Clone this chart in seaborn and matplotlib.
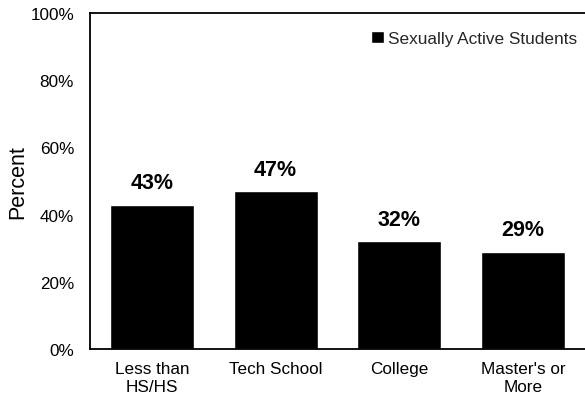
import matplotlib
matplotlib.use("Agg")
import matplotlib.pyplot as plt
import seaborn as sns
import pandas as pd

categories = ["Less than\nHS/HS", "Tech School", "College", "Master's or\nMore"]
values = [43, 47, 32, 29]
series_name = "Sexually Active Students"
y_ticks = [0, 20, 40, 60, 80, 100]
y_tick_labels = ["0%", "20%", "40%", "60%", "80%", "100%"]

sns.set_theme(style="white")
plt.rcParams["font.family"] = ["Liberation Sans", "DejaVu Sans"]

df = pd.DataFrame({"category": categories, "value": values})

fig = plt.figure(figsize=(5.85, 4.02), dpi=100)
ax = fig.add_axes([90 / 585, 1 - 350 / 402, 1 - 90 / 585, (350 - 14) / 402])

sns.barplot(data=df, x="category", y="value", color="black", width=0.68,
            saturation=1, label=series_name, ax=ax)

for container in ax.containers:
    ax.bar_label(container, labels=[f"{v}%" for v in values], padding=8,
                 fontsize=15.5, fontweight="bold", color="black")

ax.set_ylim(0, 100)
ax.set_xlim(-0.5, 3.5)
ax.set_yticks(y_ticks)
ax.set_yticklabels(y_tick_labels)
ax.set_xlabel("")
ax.set_ylabel("Percent", fontsize=15.5, labelpad=1.5, color="black")
ax.tick_params(axis="y", length=0, pad=11.5, labelsize=12.3, labelcolor="black")
ax.tick_params(axis="x", length=0, pad=9, labelsize=12.3, labelcolor="black")

for side in ["left", "bottom", "top"]:
    ax.spines[side].set_visible(True)
    ax.spines[side].set_color("black")
    ax.spines[side].set_linewidth(1.3)
ax.spines["right"].set_visible(False)

ax.legend(loc="upper right", bbox_to_anchor=(1.008, 0.983), frameon=False,
          fontsize=12.4, handlelength=0.75, handleheight=0.75, handletextpad=0.2,
          borderaxespad=0.3)

fig.savefig("out.png", dpi=100)
